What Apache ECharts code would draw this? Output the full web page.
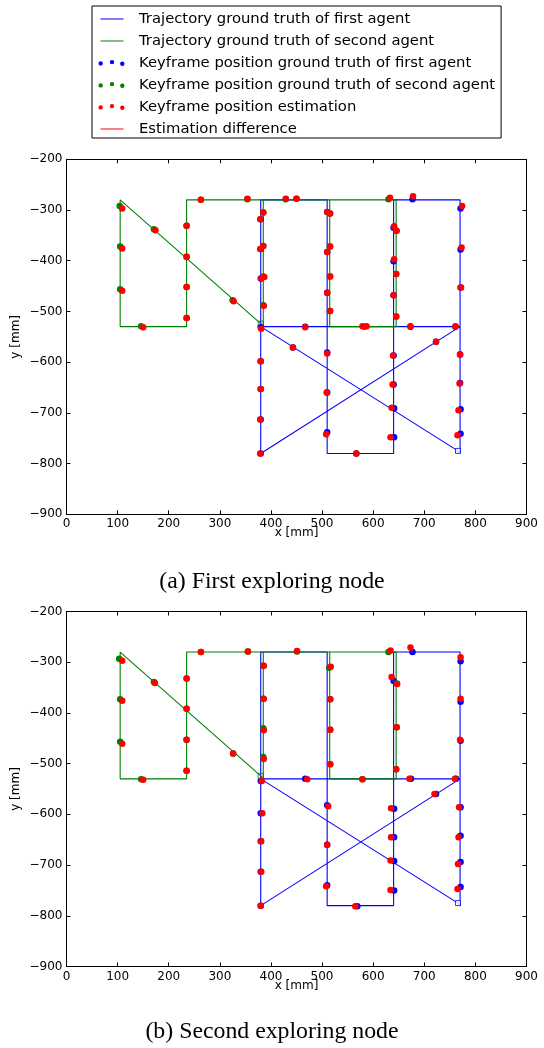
<!DOCTYPE html>
<html><head><meta charset="utf-8">
<script src="https://cdn.jsdelivr.net/npm/echarts@6/dist/echarts.min.js"></script>
<style>html,body{margin:0;padding:0;background:#fff}#c{width:544px;height:1048px}</style>
</head><body><div id="c"></div>
<script>
// ---------- data ----------
const legendNames = [
  'Trajectory ground truth of first agent',
  'Trajectory ground truth of second agent',
  'Keyframe position ground truth of first agent',
  'Keyframe position ground truth of second agent',
  'Keyframe position estimation',
  'Estimation difference'
];
const captions = ['(a) First exploring node', '(b) Second exploring node'];
const xMin = 0, xMax = 900, yMin = -900, yMax = -200, tickStep = 100;
const xAxisTitle = 'x [mm]';
const yAxisTitle = 'y [mm]';

// trajectory ground truth (path order; first point = start marker)
const blueTrajectory = [
  [766,-775],[380,-530],[380,-280],[510,-280],[510,-780],[640,-780],[640,-280],
  [770,-280],[770,-530],[380,-530],[380,-780],[770,-530],[770,-780],[766,-775]
];
const greenTrajectory = [
  [380,-524],[105,-280],[105,-530],[235,-530],[235,-280],[645,-280],[645,-530],
  [515,-530],[515,-280],[385,-280],[385,-530],[380,-524]
];

// (a) first exploring node
const blueKeyframesA = [
  [380,-318],[380,-377],[380,-435],[380,-531],[380,-598],[380,-653],[380,-713],[380,-780],
  [443,-571],[467,-530],[673,-530],[761,-530],[723,-560],
  [510,-304],[510,-383],[510,-463],[510,-581],[510,-660],[510,-738],
  [567,-780],
  [640,-335],[640,-401],[640,-468],[640,-587],[640,-644],[641,-691],[641,-748],
  [677,-279],
  [771,-297],[771,-378],[771,-453],[770,-585],[770,-641],[771,-693],[771,-741]
];
const greenKeyframesA = [
  [104,-292],[105,-372],[105,-456],[146,-529],[171,-338],[325,-478],
  [235,-331],[235,-392],[235,-452],[235,-513],
  [263,-280],[354,-279],[429,-279],[450,-278],
  [385,-305],[385,-371],[385,-431],[385,-488],
  [515,-307],[515,-372],[515,-431],[515,-499],
  [583,-530],
  [630,-279],[645,-341],[645,-426],[645,-510]
];
const estimationA = [
  [109,-297],[109,-376],[109,-459],[150,-531],[174,-340],[327,-480],
  [235,-331],[235,-392],[235,-452],[235,-513],
  [263,-280],[354,-278],[429,-278],[450,-278],
  [385,-305],[385,-371],[387,-432],[386,-489],
  [379,-318],[379,-377],[381,-435],[381,-534],[380,-598],[380,-653],[379,-713],[379,-780],
  [443,-571],[467,-531],
  [510,-304],[516,-307],[516,-372],[510,-383],[516,-431],[510,-463],[516,-499],
  [579,-529],[587,-529],
  [633,-276],[678,-273],[774,-292],
  [641,-332],[646,-341],[641,-397],[645,-426],[640,-468],[645,-510],
  [673,-529],[761,-529],[773,-374],[772,-453],[723,-560],
  [510,-583],[509,-660],[508,-742],[567,-780],
  [639,-587],[638,-644],[636,-690],[634,-748],
  [770,-585],[769,-642],[767,-695],[765,-744]
];

// (b) second exploring node
const blueKeyframesB = [
  [380,-534],[380,-598],[380,-653],[380,-713],[380,-780],
  [467,-530],[674,-530],[762,-530],[723,-560],
  [510,-582],[510,-660],[510,-740],
  [569,-781],
  [640,-337],[641,-589],[641,-645],[641,-692],[641,-750],
  [677,-280],
  [771,-298],[771,-378],[771,-455],[771,-586],[771,-642],[771,-694],[771,-743]
];
const greenKeyframesB = [
  [103,-293],[105,-373],[105,-457],[146,-531],[171,-339],[326,-480],
  [235,-332],[235,-392],[235,-453],[235,-514],
  [263,-280],[355,-279],[451,-279],
  [385,-307],[385,-372],[385,-430],[385,-487],
  [514,-311],[516,-373],[516,-433],[516,-501],
  [579,-531],
  [630,-280],[646,-342],[646,-428],[645,-511]
];
const estimationB = [
  [109,-297],[109,-376],[109,-461],[150,-532],[173,-341],[326,-480],
  [235,-332],[235,-392],[235,-453],[235,-514],
  [263,-280],[355,-279],[451,-278],
  [386,-307],[386,-372],[386,-434],[386,-491],[382,-534],
  [383,-598],[381,-653],[381,-713],[380,-780],
  [471,-531],
  [517,-309],[516,-373],[516,-433],[516,-501],[579,-531],
  [634,-277],[673,-271],[771,-290],
  [636,-329],[647,-343],[646,-428],[645,-511],
  [771,-372],[770,-453],[671,-530],[760,-530],[720,-560],
  [512,-584],[510,-660],[508,-742],[565,-781],
  [635,-588],[635,-645],[634,-691],[634,-749],
  [768,-586],[767,-645],[766,-698],[765,-747]
];

// ---------- chart ----------
const BLUE = '#0000ff', GREEN = '#008000', RED = '#ff0000';
const FONT = 'DejaVu Sans';
const minus = v => String(v).replace('-', '\u2212');

// link each estimate to its nearest ground-truth keyframe
function differences(est, gts) {
  return est.map(e => {
    let best = null, bd = Infinity;
    gts.forEach(g => { const d = Math.hypot(g[0]-e[0], g[1]-e[1]); if (d < bd) { bd = d; best = g; } });
    return { coords: [best, e] };
  });
}

const grids = [
  { left: 66.5, top: 159.3, width: 460, height: 355 },
  { left: 66.5, top: 611.5, width: 460, height: 355 }
];

function axisBase(gi, pos, showLabel) {
  return {
    gridIndex: gi, type: 'value', position: pos,
    axisLine: { onZero: false, lineStyle: { color: '#000', width: 1 } },
    axisTick: { inside: true, length: 4, lineStyle: { color: '#000', width: 1 } },
    axisLabel: { show: showLabel, color: '#000', fontFamily: FONT, fontSize: 12, formatter: minus },
    splitLine: { show: false }
  };
}
const xAxes = [], yAxes = [];
[0, 1].forEach(gi => {
  xAxes.push(Object.assign(axisBase(gi, 'bottom', true), {
    min: xMin, max: xMax, interval: tickStep,
    name: xAxisTitle, nameLocation: 'middle', nameGap: 13, nameMoveOverlap: false,
    nameTextStyle: { color: '#000', fontFamily: FONT, fontSize: 12 }
  }));
  xAxes[xAxes.length-1].axisLabel.margin = 4;
  xAxes.push(Object.assign(axisBase(gi, 'top', false), { min: xMin, max: xMax, interval: tickStep }));
  yAxes.push(Object.assign(axisBase(gi, 'left', true), {
    min: yMin, max: yMax, interval: tickStep,
    name: yAxisTitle, nameLocation: 'middle', nameGap: 45, nameRotate: 90, nameMoveOverlap: false,
    nameTextStyle: { color: '#000', fontFamily: FONT, fontSize: 12 }
  }));
  yAxes[yAxes.length-1].axisLabel.margin = 4;
  yAxes.push(Object.assign(axisBase(gi, 'right', false), { min: yMin, max: yMax, interval: tickStep }));
});

function plotSeries(p, blueKF, greenKF, est) {
  const ax = { xAxisIndex: 2*p, yAxisIndex: 2*p };
  return [
    Object.assign({ type: 'line', name: legendNames[0], data: blueTrajectory, symbol: 'none',
      lineStyle: { color: BLUE, width: 1.1 }, itemStyle: { color: BLUE }, z: 2 }, ax),
    Object.assign({ type: 'line', name: legendNames[1], data: greenTrajectory, symbol: 'none',
      lineStyle: { color: GREEN, width: 1.1 }, itemStyle: { color: GREEN }, z: 3 }, ax),
    Object.assign({ type: 'scatter', data: [blueTrajectory[0]], symbol: 'rect', symbolSize: 5,
      itemStyle: { color: '#fff', borderColor: BLUE, borderWidth: 1 }, z: 4 }, ax),
    Object.assign({ type: 'scatter', data: [greenTrajectory[0]], symbol: 'rect', symbolSize: 5,
      itemStyle: { color: 'rgba(255,255,255,0)', borderColor: GREEN, borderWidth: 1 }, z: 4 }, ax),
    Object.assign({ type: 'scatter', name: legendNames[2], data: blueKF, symbolSize: 6.5,
      itemStyle: { color: BLUE, opacity: 1 }, z: 5 }, ax),
    Object.assign({ type: 'scatter', name: legendNames[3], data: greenKF, symbolSize: 6.5,
      itemStyle: { color: GREEN, opacity: 1 }, z: 6 }, ax),
    Object.assign({ type: 'lines', name: legendNames[5], coordinateSystem: 'cartesian2d',
      data: differences(est, blueKF.concat(greenKF)),
      lineStyle: { color: RED, width: 1, opacity: 1, curveness: 0 }, z: 7 }, ax),
    Object.assign({ type: 'scatter', name: legendNames[4], data: est, symbolSize: 6.5,
      itemStyle: { color: RED, opacity: 1 }, z: 8 }, ax)
  ];
}

const LINE_ICON = 'path://M0,0M2.5,3.5L25.5,3.5L25.5,4.5L2.5,4.5ZM36,8';
const DOTS_ICON = 'path://M0,0M0.5,4.4a2.2,2.2 0 1,0 4.4,0a2.2,2.2 0 1,0 -4.4,0' +
  'M11.8,3.1a2.2,2.2 0 1,0 4.4,0a2.2,2.2 0 1,0 -4.4,0' +
  'M22.1,4.7a2.2,2.2 0 1,0 4.4,0a2.2,2.2 0 1,0 -4.4,0M36,8';
const legendColors = [BLUE, GREEN, BLUE, GREEN, RED, RED];
const legendIcons = [LINE_ICON, LINE_ICON, DOTS_ICON, DOTS_ICON, DOTS_ICON, LINE_ICON];

const option = {
  animation: false,
  backgroundColor: '#fff',
  title: captions.map((t, i) => ({
    text: t, left: 'center', top: i === 0 ? 565 : 1015,
    textStyle: { fontFamily: 'Liberation Serif', fontSize: 23.8, fontWeight: 'normal', color: '#000' }
  })),
  legend: {
    orient: 'vertical', left: 92, top: 6,
    itemWidth: 36, itemHeight: 8, itemGap: 6,
    padding: [5, 6, 1, 6],
    borderColor: '#000', borderWidth: 1, borderRadius: 0, backgroundColor: '#fff',
    textStyle: { fontFamily: FONT, fontSize: 14.8, color: '#000', lineHeight: 16 },
    itemStyle: { borderWidth: 0 },
    selectedMode: false,
    data: legendNames.map((n, i) => ({ name: n, icon: legendIcons[i], itemStyle: { color: legendColors[i], borderWidth: 0 } }))
  },
  grid: grids.map(g => Object.assign({ outerBoundsMode: 'none', containLabel: false }, g)),
  xAxis: xAxes,
  yAxis: yAxes,
  series: plotSeries(0, blueKeyframesA, greenKeyframesA, estimationA)
    .concat(plotSeries(1, blueKeyframesB, greenKeyframesB, estimationB))
};

const chart = echarts.init(document.getElementById('c'), null, { renderer: 'canvas' });
chart.setOption(option);
</script>
</body></html>
